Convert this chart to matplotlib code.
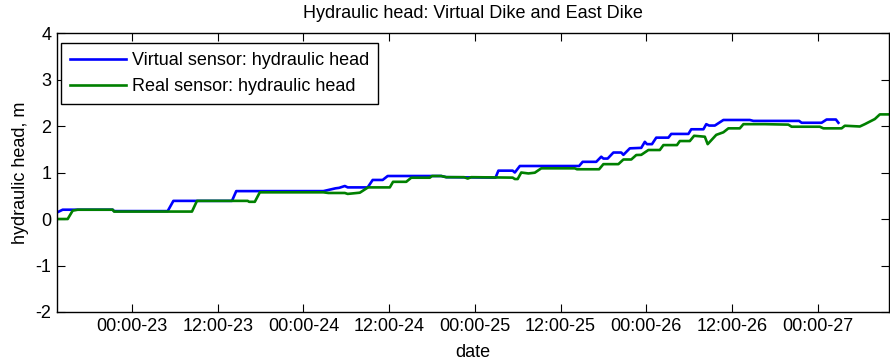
import matplotlib
matplotlib.use("Agg")
import matplotlib.pyplot as plt
import matplotlib.dates as mdates
import numpy as np
import pandas as pd

plt.rcParams['font.family'] = ['Liberation Sans', 'DejaVu Sans']
plt.rcParams['axes.unicode_minus'] = False

# hours relative to 00:00 on day 23
virtual_hours = [-10.5, -9.7, -2.7, -2.5, 5.0, 5.8, 14.0, 14.6, 26.8, 28.5, 29.0, 29.8,
                 30.2, 33.0, 33.7, 35.1, 35.8, 43.3, 44.0, 50.9, 51.3, 53.3, 53.6, 54.3,
                 62.6, 63.1, 65.0, 65.7, 66.0, 66.6, 67.4, 68.5, 68.8, 69.7, 71.3, 71.8,
                 72.1, 72.8, 73.4, 75.1, 75.5, 77.9, 78.3, 80.0, 80.4, 80.8, 81.6, 82.8,
                 86.5, 87.0, 93.4, 93.75, 96.55, 97.25, 98.55, 98.9]
virtual_head = [0.14, 0.20, 0.20, 0.17, 0.17, 0.39, 0.39, 0.60, 0.60, 0.66, 0.67, 0.71,
                0.68, 0.68, 0.84, 0.84, 0.925, 0.925, 0.90, 0.89, 1.04, 1.04, 1.00, 1.14,
                1.14, 1.23, 1.23, 1.34, 1.30, 1.30, 1.43, 1.43, 1.38, 1.52, 1.53, 1.66,
                1.61, 1.61, 1.75, 1.75, 1.83, 1.83, 1.93, 1.93, 2.04, 2.01, 2.01, 2.13,
                2.13, 2.11, 2.11, 2.07, 2.07, 2.14, 2.14, 2.07]

real_hours = [-10.5, -9.0, -8.3, -7.6, -2.7, -2.5, 8.4, 9.1, 16.2, 16.4, 17.2, 17.9,
              26.8, 27.5, 29.8, 30.2, 31.9, 33.05, 36.1, 36.55, 38.4, 39.1, 41.7, 42.0,
              43.3, 44.0, 46.5, 47.0, 47.5, 53.3, 53.6, 54.0, 54.5, 55.5, 56.4, 57.3,
              62.0, 62.3, 65.4, 66.0, 68.1, 68.8, 69.9, 70.6, 71.3, 72.3, 73.9, 74.4,
              76.3, 76.7, 78.1, 78.7, 80.2, 80.6, 81.8, 82.8, 83.5, 85.1, 85.6, 88.6,
              91.9, 92.35, 96.3, 96.8, 99.35, 99.8, 101.9, 102.6, 104.0, 104.7, 106.0]
real_head = [0.0, 0.0, 0.18, 0.20, 0.20, 0.16, 0.16, 0.39, 0.39, 0.37, 0.37, 0.574,
             0.574, 0.56, 0.56, 0.54, 0.566, 0.68, 0.68, 0.80, 0.80, 0.888, 0.888, 0.925,
             0.925, 0.90, 0.90, 0.87, 0.90, 0.89, 0.86, 0.86, 1.00, 0.98, 0.996, 1.09,
             1.09, 1.07, 1.07, 1.18, 1.18, 1.28, 1.28, 1.376, 1.38, 1.484, 1.484, 1.59,
             1.59, 1.677, 1.677, 1.79, 1.77, 1.61, 1.81, 1.865, 1.95, 1.95, 2.04, 2.04,
             2.03, 1.985, 1.985, 1.95, 1.95, 2.006, 1.99, 2.04, 2.15, 2.25, 2.25]

base = pd.Timestamp('2014-03-23 00:00')
t_virtual = base + pd.to_timedelta(virtual_hours, unit='h')
t_real = base + pd.to_timedelta(real_hours, unit='h')

fig = plt.figure(figsize=(8.9, 3.63), dpi=100)
ax = fig.add_axes([0.064, 0.1405, 0.935, 0.7685])

ax.plot(t_virtual, virtual_head, color=(0, 0, 1), lw=1.9, label='Virtual sensor: hydraulic head')
ax.plot(t_real, real_head, color=(0, 0.5, 0), lw=1.9, label='Real sensor: hydraulic head')

ax.set_xlim(base + pd.Timedelta(hours=-10.5), base + pd.Timedelta(hours=106.0))
ax.set_ylim(-2, 4)
ax.set_yticks(np.arange(-2, 5, 1))
ax.xaxis.set_major_locator(mdates.HourLocator(byhour=[0, 12]))
ax.xaxis.set_major_formatter(mdates.DateFormatter('%H:%M-%d'))

ax.tick_params(direction='in', top=True, right=True, labelsize=13, length=6, pad=4)
for s in ax.spines.values():
    s.set_linewidth(1.0)

ax.set_title('Hydraulic head: Virtual Dike and East Dike', fontsize=13, pad=11)
ax.set_xlabel('date', fontsize=13, labelpad=7)
ax.set_ylabel('hydraulic head, m', fontsize=13, labelpad=5)

leg = ax.legend(loc='upper left', bbox_to_anchor=(0.0052, 0.963), borderaxespad=0,
                fontsize=13, fancybox=False, edgecolor='black', framealpha=1,
                handlelength=3.1, handletextpad=0.3, borderpad=0.5, labelspacing=0.5)
leg.get_frame().set_linewidth(1.0)

fig.savefig('out.png', dpi=100)
